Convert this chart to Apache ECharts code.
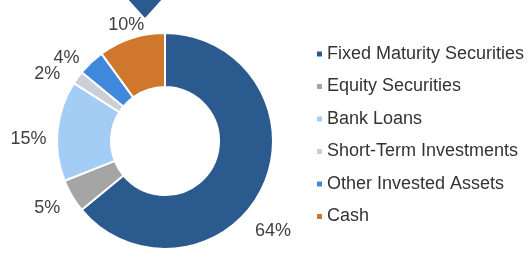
<!DOCTYPE html>
<html>
<head>
<meta charset="utf-8">
<script src="https://cdn.jsdelivr.net/npm/echarts@6/dist/echarts.min.js"></script>
<style>
  html, body { margin: 0; padding: 0; background: #fff; }
  #chart { width: 531px; height: 255px; }
</style>
</head>
<body>
<div id="chart"></div>
<script>
// portfolio allocation, in percent
var categories = ['Fixed Maturity Securities', 'Equity Securities', 'Bank Loans',
  'Short-Term Investments', 'Other Invested Assets', 'Cash'];
var shares = [64, 5, 15, 2, 4, 10];

var colors = ['#2b5a8e', '#a5a5a5', '#a4cdf6', '#ccd0d6', '#3f88db', '#cf772d'];
// nudges so the labels sit where the original put them
var labelNudge = [[-22, 41], [2, 8], [4, 9], [-4, 1], [1, 2], [22, -6]];

var chart = echarts.init(document.getElementById('chart'), null, { renderer: 'canvas' });

chart.setOption({
  animation: false,
  color: colors,
  legend: {
    orient: 'vertical',
    left: 310,
    top: 40,
    icon: 'rect',
    itemWidth: 7,
    itemHeight: 7,
    itemGap: 14.5,
    textStyle: { fontFamily: 'Liberation Sans', fontSize: 18, color: '#333', padding: [0, 0, 0, -1] },
    data: categories
  },
  graphic: [{
    type: 'polygon',
    shape: { points: [[127, -2], [163, -2], [145, 18]] },
    style: { fill: '#2b5a8e' }
  }],
  series: [{
    type: 'pie',
    center: [165, 141],
    radius: [54, 108],
    startAngle: 90,
    clockwise: true,
    avoidLabelOverlap: false,
    itemStyle: { borderColor: '#fff', borderWidth: 2 },
    label: {
      show: true,
      position: 'outside',
      formatter: '{c}%',
      fontFamily: 'Liberation Sans',
      fontSize: 18,
      color: '#404040'
    },
    labelLine: { show: false, length: 8, length2: 2 },
    labelLayout: function (params) {
      var n = labelNudge[params.dataIndex];
      return { dx: n[0], dy: n[1] };
    },
    data: categories.map(function (name, i) {
      return { name: name, value: shares[i] };
    })
  }]
});
</script>
</body>
</html>
